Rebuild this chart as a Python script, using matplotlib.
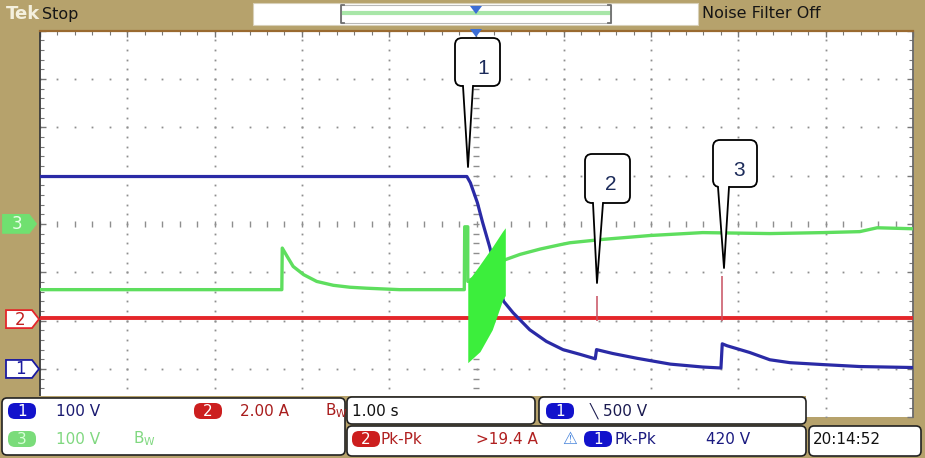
import matplotlib
matplotlib.use('Agg')
import matplotlib.pyplot as plt
import numpy as np
from matplotlib.patches import FancyBboxPatch, Polygon, Rectangle

# ---------------- data (read from the screen shot) ----------------
# time in seconds (1.00 s/div, trigger at t = 0)
ch1_t = [-5.0, -0.11, -0.07, 0.01, 0.07, 0.15, 0.31, 0.42, 0.61, 0.80, 0.99, 1.19,
         1.36, 1.375, 1.56, 1.84, 2.22, 2.59, 2.80, 2.815, 2.87, 3.13, 3.36,
         3.59, 3.97, 4.39, 4.99]
ch1_v = [398, 398, 385, 344, 303, 253, 140, 116, 81, 57, 40, 30,
         21, 40, 32, 22, 10, 4, 2, 52, 48, 34, 19,
         13, 9, 5, 3]

ch2_t = [-5.0, 5.0]
ch2_a = [0.1, 0.1]
spike_t = [1.375, 2.815]
spike_a = [1.0, 1.83]

ch3_t = [-5.0, -2.23, -2.225, -2.17, -2.10, -1.98, -1.83, -1.64, -1.45, -1.26,
         -0.88, -0.14, -0.135, -0.10, -0.10, 0.33, 0.50, 0.73, 0.96, 1.07, 1.45,
         1.99, 2.59, 3.36, 3.97, 4.39, 4.59, 4.99]
ch3_v = [-136, -136, -50, -67, -88, -105, -119, -127, -131, -133,
         -136, -136, -6, -6, -119, -74, -63, -52, -43, -39, -32,
         -24, -18, -20, -18, -16, -8, -10]

burst_t = [-0.10, 0.04, 0.18, 0.30, 0.33]
burst_top = [-119, -84, -48, -15, -8]
burst_bot = [-287, -264, -219, -157, -148]

ch1_scale, ch2_scale, ch3_scale = 100.0, 2.0, 100.0   # per division
ch1_pos, ch2_pos, ch3_pos = -3.0, -2.0, 0.0           # ground marker (div)

# ---------------- styling ----------------
TAN = '#B6A26C'
BLUE = '#2A2AA6'
RED = '#E4262A'
GREEN = '#5EDE5E'
BURST = '#3CEE3C'
GRID = '#8E8E8E'
FONT = ['Liberation Sans Narrow', 'DejaVu Sans']
plt.rcParams['font.family'] = FONT

W, H = 925, 458
fig = plt.figure(figsize=(W / 100, H / 100), dpi=100, facecolor=TAN)

top_px, bot_px, left_px, right_px = 30.5, 417.3, 40, 913
ax = fig.add_axes([left_px / W, (H - bot_px) / H, (right_px - left_px) / W,
                   (bot_px - top_px) / H])
ax.set_xlim(-5, 5)
ax.set_ylim(-4, 4)
ax.set_facecolor('white')

# graticule
minor_y = np.arange(-4, 4.001, 0.2)
minor_x = np.arange(-5, 5.001, 0.2)
for xi in range(-4, 5):
    if xi == 0:
        continue
    ax.plot(np.full_like(minor_y, xi), minor_y, ls='none', marker='s', ms=1.3,
            mec='none', mfc=GRID, zorder=1)
for yj in range(-3, 4):
    if yj == 0:
        continue
    ax.plot(minor_x, np.full_like(minor_x, yj), ls='none', marker='s', ms=1.3,
            mec='none', mfc=GRID, zorder=1)
ax.plot(np.zeros_like(minor_y), minor_y, ls='none', marker='_', ms=4.5, mew=1.0,
        color=GRID, zorder=1)
ax.plot(minor_x, np.zeros_like(minor_x), ls='none', marker='|', ms=4.5, mew=1.0,
        color=GRID, zorder=1)

ax.set_xticks(np.arange(-5, 5.001, 1))
ax.set_xticks(minor_x, minor=True)
ax.set_yticks(np.arange(-4, 4.001, 1))
ax.set_yticks(minor_y, minor=True)
ax.tick_params(which='both', direction='in', top=True, bottom=False, left=True,
               right=True, labelleft=False, labelbottom=False, color='#777777')
ax.tick_params(which='major', length=4, width=1)
ax.tick_params(which='minor', length=3, width=0.8)
ax.spines['top'].set_color('#9A6A30')
ax.spines['top'].set_linewidth(1.6)
ax.spines['left'].set_color('#3A3A3A')
ax.spines['right'].set_color('#6A6A6A')
ax.spines['left'].set_linewidth(1.3)
ax.spines['right'].set_linewidth(1.3)
ax.spines['bottom'].set_visible(False)

# traces
ax.plot(ch2_t, np.array(ch2_a) / ch2_scale + ch2_pos, color=RED, lw=2.8, zorder=3)
ax.vlines(spike_t, ch2_pos, np.array(spike_a) / ch2_scale + ch2_pos,
          color='#C85060', lw=1.1, zorder=3)
ax.plot(ch1_t, np.array(ch1_v) / ch1_scale + ch1_pos, color=BLUE, lw=2.3, zorder=4)
ax.plot(ch3_t, np.array(ch3_v) / ch3_scale + ch3_pos, color=GREEN, lw=2.4, zorder=5)
ax.fill_between(burst_t, np.array(burst_bot) / ch3_scale + ch3_pos,
                np.array(burst_top) / ch3_scale + ch3_pos, color=BURST,
                lw=0, zorder=6)

# ---------------- overlay (screen furniture) ----------------
ov = fig.add_axes([0, 0, 1, 1], zorder=5)
ov.set_xlim(0, W)
ov.set_ylim(H, 0)
ov.axis('off')


def rbox(x0, y0, x1, y1, fc='white', ec='#222222', lw=1.2, r=5, z=6):
    p = FancyBboxPatch((x0, y0), x1 - x0, y1 - y0,
                       boxstyle=f'round,pad=0,rounding_size={r}',
                       fc=fc, ec=ec, lw=lw, zorder=z)
    ov.add_patch(p)


def badge(xc, yc, label, fc, tc='white', w=28, h=16):
    rbox(xc - w / 2, yc - h / 2, xc + w / 2, yc + h / 2, fc=fc, ec='none',
         r=7, z=8)
    ov.text(xc, yc + 0.5, label, ha='center', va='center', color=tc,
            fontsize=11, zorder=9)


# top bar
ov.text(6, 14, 'Tek', fontsize=13, fontweight='bold', color='#F4F0DE',
        va='center', ha='left', zorder=7)
ov.text(42, 14, 'Stop', fontsize=11.5, color='#151515', va='center', ha='left',
        zorder=7)
ov.add_patch(Rectangle((253, 3), 445, 22, fc='white', ec='#D8D0B8', lw=0.8,
                       zorder=6))
ov.add_patch(Rectangle((341, 5), 270, 18, fc='white', ec='#B8B8B8', lw=0.8,
                       zorder=6))
ov.plot([343, 609], [13, 13], color='#A8E6A8', lw=3.0, zorder=7)
for xb, d in ((341, 1), (611, -1)):
    ov.plot([xb + 3 * d, xb, xb, xb + 3 * d], [5, 5, 23, 23], color='#707070',
            lw=1.3, zorder=7)
ov.add_patch(Polygon([(470, 6), (482, 6), (476, 14)], closed=True,
                     fc='#3C6ED6', ec='none', zorder=8))
ov.text(702, 14, 'Noise Filter Off', fontsize=11.5, color='#151515',
        va='center', ha='left', zorder=7)
ov.add_patch(Polygon([(470, 29), (482, 29), (476, 37)], closed=True,
                     fc='#3C6ED6', ec='none', zorder=8))


# channel markers on the left
def marker(yc, label, fc, ec, tc, x0=6):
    pts = [(x0, yc - 9), (x0 + 26, yc - 9), (x0 + 33, yc), (x0 + 26, yc + 9),
           (x0, yc + 9)]
    ov.add_patch(Polygon(pts, closed=True, fc=fc, ec=ec, lw=1.3, zorder=7))
    ov.text(x0 + 14, yc + 0.5, label, ha='center', va='center', color=tc,
            fontsize=12, zorder=8)


def div_to_px(d):
    return top_px + (4 - d) * (bot_px - top_px) / 8


marker(div_to_px(ch3_pos), '3', '#70E070', '#70E070', '#E8FFE8', x0=3)
marker(div_to_px(ch2_pos) - 1.5, '2', 'white', RED, '#C02020')
marker(div_to_px(ch1_pos), '1', 'white', '#1A1AA0', '#1A1AA0')


# callouts
def callout(x0, y0, x1, y1, tx1, tx2, tip, label, lx, ly):
    rbox(x0, y0, x1, y1, fc='white', ec='black', lw=1.3, r=7, z=10)
    ov.add_patch(Polygon([(tx1, y1 - 1.5), tip, (tx2, y1 - 1.5)], closed=True,
                         fc='white', ec='none', zorder=11))
    ov.plot([tx1, tip[0], tx2], [y1, tip[1], y1], color='black', lw=1.3,
            zorder=12)
    ov.text(lx, ly, label, ha='center', va='center', fontsize=15,
            color='#1C2B5A', family=['Liberation Sans', 'DejaVu Sans'],
            zorder=12)


callout(455, 38, 500, 86, 463, 473, (468, 167), '1', 483, 68)
callout(585, 154, 630, 203, 593, 603, (597, 283), '2', 611, 185)
callout(713, 140, 757, 187, 718, 729, (724, 268), '3', 739, 171)

# bottom readouts: tan mask
ov.add_patch(Polygon([(0, 396), (806, 396), (806, 425), (925, 425), (925, 458),
                      (0, 458)], closed=True, fc=TAN, ec='none', zorder=5))

rbox(2, 398, 345, 455)
rbox(347, 397, 535, 424)
rbox(539, 397, 806, 424)
rbox(347, 426, 806, 456)
rbox(809, 426, 921, 456)

r1, r2 = 411, 439
badge(22, r1, '1', '#1212CC')
ov.text(56, r1, '100 V', fontsize=11, color='#1A1A70', va='center', zorder=9)
badge(208, r1, '2', '#CC1E1E')
ov.text(240, r1, '2.00 A', fontsize=11, color='#A81C1C', va='center', zorder=9)
ov.text(325, r1, r'B$_{\mathrm{W}}$', fontsize=11, color='#A81C1C',
        va='center', zorder=9)
badge(22, r2, '3', '#7ADC7A', tc='#D8FFD8')
ov.text(56, r2, '100 V', fontsize=11, color='#80D880', va='center', zorder=9)
ov.text(133, r2, r'B$_{\mathrm{W}}$', fontsize=11, color='#80D880',
        va='center', zorder=9)

ov.text(352, r1, '1.00 s', fontsize=11, color='#111111', va='center', zorder=9)
badge(560, r1, '1', '#1212CC')
ov.text(590, r1, '\u2572', fontsize=10, color='#1A1A50', va='center',
        family='DejaVu Sans', zorder=9)
ov.text(603, r1, '500 V', fontsize=11, color='#1A1A50', va='center', zorder=9)

badge(366, r2, '2', '#CC1E1E')
ov.text(381, r2, 'Pk-Pk', fontsize=11, color='#B02020', va='center', zorder=9)
ov.text(476, r2, '>19.4 A', fontsize=11, color='#B02020', va='center', zorder=9)
ov.text(570, r2, '\u26A0', fontsize=12, color='#4A86DC', va='center',
        ha='center', family='DejaVu Sans', zorder=9)
badge(598, r2, '1', '#1212CC')
ov.text(614, r2, 'Pk-Pk', fontsize=11, color='#1A1A80', va='center', zorder=9)
ov.text(706, r2, '420 V', fontsize=11, color='#1A1A80', va='center', zorder=9)
ov.text(813, r2 + 1, '20:14:52', fontsize=11, color='#111111', va='center',
        zorder=9)

fig.savefig('out.png', dpi=100, facecolor=TAN)
